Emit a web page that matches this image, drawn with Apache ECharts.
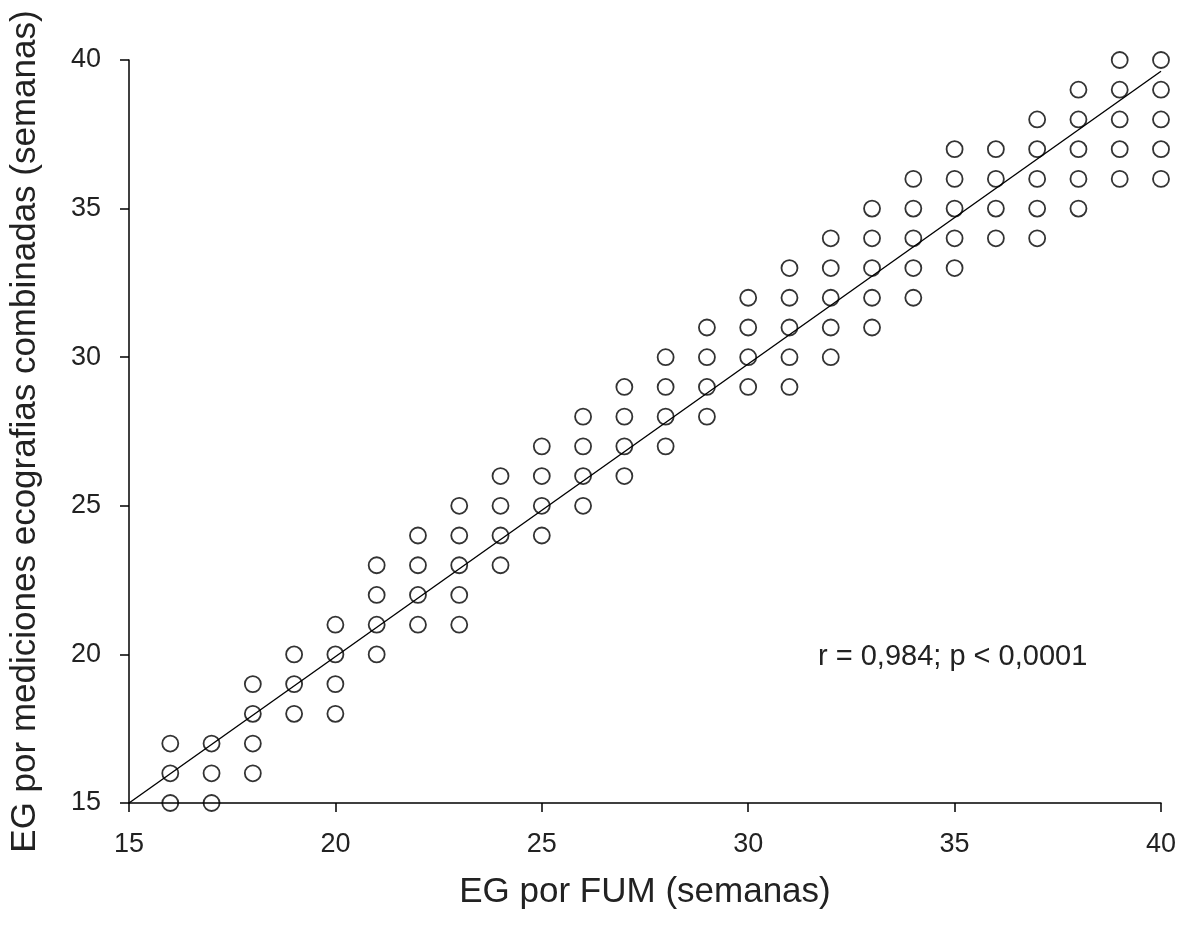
<!DOCTYPE html>
<html>
<head>
<meta charset="utf-8">
<script src="https://cdn.jsdelivr.net/npm/echarts@6/dist/echarts.min.js"></script>
<style>html,body{margin:0;padding:0;background:#fff}#c{width:1181px;height:925px}</style>
</head>
<body>
<div id="c"></div>
<script>
// x = EG por FUM, list of y values per x
const xValues = [16,17,18,19,20,21,22,23,24,25,26,27,28,29,30,31,32,33,34,35,36,37,38,39,40];
const yByX = [
  [15,16,17],
  [15,16,17],
  [16,17,18,19],
  [18,19,20],
  [18,19,20,21],
  [20,21,22,23],
  [21,22,23,24],
  [21,22,23,24,25],
  [23,24,25,26],
  [24,25,26,27],
  [25,26,27,28],
  [26,27,28,29],
  [27,28,29,30],
  [28,29,30,31],
  [29,30,31,32],
  [29,30,31,32,33],
  [30,31,32,33,34],
  [31,32,33,34,35],
  [32,33,34,35,36],
  [33,34,35,36,37],
  [34,35,36,37],
  [34,35,36,37,38],
  [35,36,37,38,39],
  [36,37,38,39,40],
  [36,37,38,39,40]
];
const fitLine = [[15,15],[40,39.62]];
const xTicks = [15,20,25,30,35,40];
const yTicks = [15,20,25,30,35,40];
const annotation = 'r = 0,984; p < 0,0001';

const points = [];
xValues.forEach((x,i)=>yByX[i].forEach(y=>points.push([x,y])));

const chart = echarts.init(document.getElementById('c'));
const font = 'Liberation Sans, Arial, sans-serif';
chart.setOption({
  animation:false,
  backgroundColor:'#fff',
  grid:{left:128,right:20,top:60,bottom:122,containLabel:false},
  xAxis:{
    type:'value',min:15,max:40,interval:5,
    name:'EG por FUM (semanas)',nameLocation:'middle',nameGap:72,
    nameTextStyle:{fontFamily:font,fontSize:35,color:'#222'},
    axisLine:{show:true,lineStyle:{color:'#000',width:1.5}},
    axisTick:{show:true,length:9,inside:false,lineStyle:{color:'#000',width:1.5}},
    axisLabel:{fontFamily:font,fontSize:27,color:'#222',margin:28},
    splitLine:{show:false}
  },
  yAxis:{
    type:'value',min:15,max:40,interval:5,
    name:'EG por mediciones ecografias combinadas (semanas)',nameLocation:'middle',nameGap:86,
    nameTextStyle:{fontFamily:font,fontSize:35,color:'#222'},
    axisLine:{show:true,lineStyle:{color:'#000',width:1.5}},
    axisTick:{show:true,length:9,inside:false,lineStyle:{color:'#000',width:1.5}},
    axisLabel:{fontFamily:font,fontSize:27,color:'#222',margin:28},
    splitLine:{show:false}
  },
  graphic:[{
    type:'text',left:818,top:642,
    style:{text:annotation,fontFamily:font,fontSize:29,fill:'#222'}
  }],
  series:[
    {type:'line',data:fitLine,symbol:'none',lineStyle:{color:'#000',width:1.4},z:1,silent:true},
    {type:'scatter',data:points,symbol:'circle',symbolSize:16,clip:false,
     itemStyle:{color:'rgba(255,255,255,0)',borderColor:'#000',borderWidth:1.8},z:2}
  ]
});
</script>
</body>
</html>
